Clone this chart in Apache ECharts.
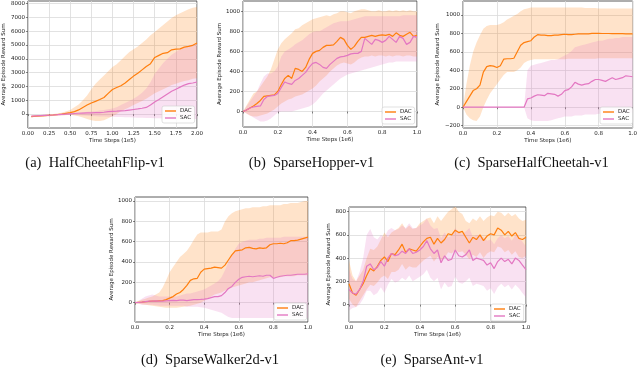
<!DOCTYPE html>
<html><head><meta charset="utf-8">
<script src="https://cdn.jsdelivr.net/npm/echarts@6/dist/echarts.min.js"></script>
<style>html,body{margin:0;padding:0;background:#fff}#c{width:640px;height:389px}</style>
</head><body><div id="c"></div>
<script>
// ---------- Panel (a) HalfCheetahFlip-v1 (x in 1e5) ----------
const aX = [0.04,0.1,0.2,0.3,0.4,0.5,0.55,0.6,0.65,0.7,0.75,0.8,0.85,0.9,0.95,1.0,1.05,1.1,1.15,1.2,1.25,1.3,1.35,1.4,1.45,1.5,1.55,1.6,1.65,1.7,1.75,1.8,1.85,1.9,1.95,2.0];
const aDacMean = [-180,-150,-110,-70,0,100,180,300,480,650,800,920,1050,1200,1500,1780,1920,2050,2250,2500,2750,2950,3200,3450,3650,4100,4250,4400,4450,4650,4700,4720,4850,4900,4980,5150];
const aDacHi = [-120,-100,-50,0,100,300,500,700,1000,1350,1800,2200,2500,2800,3100,3400,3600,3900,4200,4500,4700,4900,5150,5400,5700,5950,6200,6450,6700,6950,7150,7300,7450,7600,7700,7750];
const aDacLo = [-240,-200,-170,-140,-100,-50,-100,-150,-250,-350,-450,-500,-500,-450,-300,-150,0,200,350,500,650,800,950,1100,1300,1500,1650,1800,1950,2100,2200,2300,2400,2450,2550,2600];
const aSacMean = [-150,-130,-100,-70,-20,20,40,60,70,80,90,100,110,130,170,200,210,230,250,290,330,370,420,480,650,880,1050,1250,1450,1650,1800,1950,2100,2200,2250,2320];
const aSacHi = [-100,-80,-50,-20,30,80,100,120,140,160,180,200,250,300,350,400,500,650,800,950,1100,1300,1550,1850,2300,2900,3300,3700,4000,4300,4500,4700,4850,4950,5050,5100];
const aSacLo = [-200,-180,-150,-120,-80,-50,-60,-80,-100,-120,-140,-150,-170,-180,-190,-200,-210,-220,-230,-240,-250,-260,-270,-280,-290,-300,-310,-320,-330,-340,-350,-350,-350,-350,-350,-350];

// common x grid for 1e6 panels
const xs6 = [0,0.02,0.04,0.06,0.08,0.1,0.12,0.14,0.16,0.18,0.2,0.22,0.24,0.26,0.28,0.3,0.32,0.34,0.36,0.38,0.4,0.42,0.44,0.46,0.48,0.5,0.52,0.54,0.56,0.58,0.6,0.62,0.64,0.66,0.68,0.7,0.72,0.74,0.76,0.78,0.8,0.82,0.84,0.86,0.88,0.9,0.92,0.94,0.96,0.98,1.0];

// ---------- Panel (b) SparseHopper-v1 ----------
const bDacMean = [0,15,35,55,80,110,150,155,160,165,200,270,330,360,330,430,420,400,440,520,580,600,610,640,660,660,665,700,740,720,660,620,650,700,740,740,750,760,750,760,765,760,770,750,785,760,750,770,790,750,760];
const bDacHi = [0,60,120,180,200,250,300,350,420,520,620,680,720,750,780,820,830,860,880,900,920,930,940,950,960,950,970,980,1000,1000,990,980,1000,1010,1020,1020,1010,1000,1000,1010,1000,1000,1010,1000,1010,1000,1010,1000,1010,1000,1000];
const bDacLo = [0,-20,-40,-50,-50,-40,-30,-20,0,20,50,80,100,120,130,150,160,170,190,210,230,260,300,330,360,400,430,460,480,490,480,470,490,520,540,550,550,560,550,560,560,550,560,550,560,560,550,560,560,550,550];
const bSacMean = [0,15,35,45,50,55,120,150,155,160,180,240,295,280,270,310,330,360,390,440,480,490,470,440,430,470,500,530,545,550,560,575,580,580,600,730,700,670,720,710,690,710,750,720,690,750,730,670,690,750,740];
const bSacHi = [0,50,100,150,200,280,350,380,380,400,450,550,600,620,640,670,690,710,740,770,790,800,800,820,840,860,880,890,900,900,900,910,920,930,940,950,950,950,950,950,950,950,950,950,950,950,960,960,960,960,960];
const bSacLo = [0,-20,-40,-60,-80,-100,-100,-90,-70,-40,-10,0,0,0,0,10,20,30,40,50,70,100,140,180,210,240,270,300,330,350,370,380,390,400,410,420,430,440,450,460,470,480,490,490,500,500,500,500,500,500,500];

// ---------- Panel (c) SparseHalfCheetah-v1 ----------
const cDacMean = [0,60,120,180,200,240,380,440,450,445,430,450,520,525,525,530,600,670,700,710,720,760,785,780,780,775,775,780,780,785,790,785,785,790,795,795,795,795,800,800,800,798,798,798,796,796,796,796,795,795,795];
const cDacHi = [0,250,450,600,700,780,850,880,890,890,890,900,920,950,970,990,1010,1040,1060,1070,1080,1080,1080,1080,1080,1080,1080,1080,1080,1080,1080,1080,1080,1080,1080,1080,1075,1075,1075,1075,1070,1070,1070,1070,1070,1070,1070,1070,1070,1070,1070];
const cDacLo = [0,-80,-120,-140,-150,-100,0,80,150,200,250,300,350,380,380,380,400,430,480,500,510,520,520,520,520,520,520,520,520,520,520,525,525,525,525,525,525,525,525,525,530,530,530,530,530,530,530,530,530,530,530];
const cSacMean = [0,0,0,0,0,0,0,0,0,0,0,0,0,0,0,0,0,0,0,90,100,120,135,130,125,150,145,140,120,140,180,190,220,270,250,240,250,255,280,300,300,290,280,300,320,300,310,320,340,335,330];
const cSacHi = [0,0,0,0,0,0,0,0,0,0,0,0,0,0,0,0,0,0,0,400,450,460,470,480,490,500,510,510,520,540,560,580,610,650,660,670,680,690,700,710,720,720,730,740,740,750,750,760,760,760,760];
const cSacLo = [0,0,0,0,0,0,0,0,0,0,0,0,0,0,0,0,0,0,0,-120,-140,-150,-150,-150,-150,-150,-140,-130,-120,-110,-100,-100,-100,-90,-90,-90,-80,-80,-80,-80,-70,-70,-70,-70,-70,-65,-65,-65,-60,-60,-60];

// ---------- Panel (d) SparseWalker2d-v1 ----------
const dDacMean = [0,3,5,10,12,15,15,18,20,30,45,60,85,100,130,170,220,235,240,300,330,335,340,350,345,340,370,420,470,510,515,520,540,545,535,530,540,535,540,570,580,580,585,580,590,610,610,615,625,635,645];
const dDacHi = [0,15,30,40,50,60,80,100,150,220,300,350,400,450,480,510,560,620,670,690,690,690,700,700,700,720,800,850,880,900,910,920,930,930,940,940,940,950,950,960,960,960,960,970,970,980,980,980,990,1000,1000];
const dDacLo = [0,-10,-15,-20,-25,-30,-35,-40,-45,-50,-50,-50,-50,-45,-40,-35,-30,-20,-10,0,20,40,60,80,90,100,120,130,150,160,170,180,190,200,200,210,220,230,240,250,250,250,250,260,260,260,260,270,270,270,270];
const dSacMean = [0,2,5,10,15,15,18,15,15,18,20,22,20,25,25,20,25,30,30,32,35,40,50,60,60,70,100,140,160,200,230,250,255,260,255,260,265,260,270,270,240,250,260,265,270,270,275,280,280,280,285];
const dSacHi = [0,20,40,60,70,80,70,60,60,60,60,60,60,70,80,90,90,100,110,120,130,150,170,190,210,250,320,400,470,530,580,600,610,620,620,620,630,630,640,640,640,640,640,650,650,650,650,650,650,650,650];
const dSacLo = [0,-10,-20,-20,-20,-20,-25,-30,-30,-30,-30,-30,-30,-30,-30,-40,-40,-40,-40,-45,-50,-60,-70,-80,-90,-100,-120,-140,-150,-150,-150,-150,-150,-150,-150,-150,-150,-150,-150,-150,-150,-150,-150,-150,-150,-150,-150,-150,-150,-150,-150];

// ---------- Panel (e) SparseAnt-v1 ----------
const eDacMean = [180,100,80,130,180,250,310,290,330,380,410,370,440,430,470,520,450,480,470,460,500,540,570,580,520,570,530,560,610,600,640,620,630,580,530,580,560,600,550,590,610,600,660,640,600,630,590,620,570,560,580];
const eDacHi = [380,250,200,250,300,400,480,470,500,560,620,580,620,640,660,700,650,680,650,660,700,720,740,750,700,760,720,760,800,820,850,800,780,720,700,740,720,760,720,750,770,760,800,790,760,790,760,780,740,720,730];
const eDacLo = [50,0,-20,30,80,130,170,160,190,230,250,220,280,280,300,350,300,330,320,320,350,380,400,420,370,410,380,400,450,440,470,450,460,430,390,430,410,450,400,440,460,450,500,490,450,470,430,460,410,400,420];
const eSacMean = [130,100,90,130,200,330,350,300,320,370,330,400,440,420,430,460,440,480,440,450,470,500,550,480,440,470,360,420,380,390,470,420,410,430,470,380,400,390,380,340,360,310,370,400,370,390,350,400,380,340,300];
const eSacHi = [300,220,200,280,400,600,650,580,560,600,580,640,660,640,650,680,660,700,660,660,680,700,740,680,650,660,570,620,580,590,660,620,610,630,660,580,600,590,580,550,560,520,570,600,570,590,550,600,580,540,500];
const eSacLo = [-50,-30,-20,0,50,120,120,80,100,150,100,170,220,190,200,230,210,250,200,220,240,260,300,230,200,230,130,190,150,160,240,190,180,200,230,160,180,170,160,120,140,90,150,180,150,170,130,170,140,100,60];

// ---------- tick labels ----------
const aYTicks = [0,1000,2000,3000,4000,5000,6000,7000,8000];
const bYTicks = [0,200,400,600,800,1000];
const cYTicks = [-200,0,200,400,600,800,1000];
const dYTicks = [0,200,400,600,800,1000];
const eYTicks = [0,200,400,600,800];
const captions = ['(a)  HalfCheetahFlip-v1','(b)  SparseHopper-v1','(c)  SparseHalfCheetah-v1','(d)  SparseWalker2d-v1','(e)  SparseAnt-v1'];
const seriesNames = ['DAC','SAC'];

const panels = [
  {x:aX, dm:aDacMean, dh:aDacHi, dl:aDacLo, sm:aSacMean, sh:aSacHi, sl:aSacLo, yt:aYTicks, ymin:-1010, ymax:8190, xmax:2, xint:0.25, xdig:2, xname:'Time Steps (1e5)',
   grid:{left:24,top:1,width:173,height:127}, ygap:17, xgap:8, leg:{left:162,top:106}, cap:{x:95,y:163.5}},
  {x:xs6, dm:bDacMean, dh:bDacHi, dl:bDacLo, sm:bSacMean, sh:bSacHi, sl:bSacLo, yt:bYTicks, ymin:-155, ymax:1103, xmax:1, xint:0.2, xdig:1, xname:'Time Steps (1e6)',
   grid:{left:243,top:1,width:174,height:126}, ygap:18, xgap:9, leg:{left:382,top:107}, cap:{x:311.5,y:163.5}},
  {x:xs6, dm:cDacMean, dh:cDacHi, dl:cDacLo, sm:cSacMean, sh:cSacHi, sl:cSacLo, yt:cYTicks, ymin:-225, ymax:1150, xmax:1, xint:0.2, xdig:1, xname:'Time Steps (1e6)',
   grid:{left:463,top:1,width:172,height:127}, ygap:20, xgap:8, leg:{left:600,top:107}, cap:{x:531.5,y:163.5}},
  {x:xs6, dm:dDacMean, dh:dDacHi, dl:dDacLo, sm:dSacMean, sh:dSacHi, sl:dSacLo, yt:dYTicks, ymin:-190, ymax:1040, xmax:1, xint:0.2, xdig:1, xname:'Time Steps (1e6)',
   grid:{left:135,top:197,width:173,height:125}, ygap:18, xgap:8, leg:{left:274,top:303}, cap:{x:210,y:360}},
  {x:xs6, dm:eDacMean, dh:eDacHi, dl:eDacLo, sm:eSacMean, sh:eSacHi, sl:eSacLo, yt:eYTicks, ymin:-150, ymax:840, xmax:1, xint:0.2, xdig:1, xname:'Time Steps (1e6)',
   grid:{left:349,top:207,width:177,height:115}, ygap:15, xgap:8, leg:{left:491,top:304}, cap:{x:432,y:360}}
];

const DAC_COLOR = '#ff7f0e', SAC_COLOR = '#e377c2';
const DAC_BAND = 'rgba(255,127,14,0.22)', SAC_BAND = 'rgba(227,119,194,0.22)';
const tickFont = {fontFamily:'DejaVu Sans', fontSize:5.5, color:'#222'};

function bandRender(xs, lo, hi, color){
  return function(params, api){
    if (params.dataIndex !== 0) return null;
    const pts = [];
    for (let i = 0; i < xs.length; i++) pts.push(api.coord([xs[i], hi[i]]));
    for (let i = xs.length - 1; i >= 0; i--) pts.push(api.coord([xs[i], lo[i]]));
    return {type:'polygon', shape:{points:pts}, style:{fill:color}, silent:true};
  };
}
const fmtY = v => v < 0 ? '\u2212' + (-v) : String(v);

const option = {
  animation:false, backgroundColor:'#fff',
  grid:[], xAxis:[], yAxis:[], series:[], legend:[], graphic:[]
};
panels.forEach((p, i) => {
  option.grid.push(Object.assign({show:true, borderColor:'#333', borderWidth:0.8, backgroundColor:'transparent'}, p.grid));
  option.xAxis.push({type:'value', gridIndex:i, min:0, max:p.xmax, interval:p.xint,
    axisLine:{show:false}, axisTick:{show:true, length:2, lineStyle:{color:'#333', width:0.6}},
    axisLabel:Object.assign({margin:3, formatter:v => v.toFixed(p.xdig)}, tickFont),
    splitLine:{show:true, lineStyle:{color:'#dadada', width:0.8}},
    name:p.xname, nameLocation:'middle', nameGap:p.xgap, nameTextStyle:tickFont});
  option.yAxis.push({type:'value', gridIndex:i, min:p.ymin, max:p.ymax,
    axisLine:{show:false}, axisTick:{show:true, length:2, customValues:p.yt, lineStyle:{color:'#333', width:0.6}},
    axisLabel:Object.assign({margin:3, customValues:p.yt, formatter:fmtY}, tickFont),
    splitLine:{show:true, lineStyle:{color:'#dadada', width:0.8}},
    name:'Average Episode Reward Sum', nameLocation:'middle', nameGap:p.ygap, nameTextStyle:tickFont});
  const dacBandData = p.x.map((x, k) => [x, p.dl[k], p.dh[k]]);
  const sacBandData = p.x.map((x, k) => [x, p.sl[k], p.sh[k]]);
  option.series.push({type:'custom', name:'DAC band', xAxisIndex:i, yAxisIndex:i, clip:true, silent:true,
    data:dacBandData, encode:{x:0, y:[1,2]}, renderItem:bandRender(p.x, p.dl, p.dh, DAC_BAND), z:1});
  option.series.push({type:'custom', name:'SAC band', xAxisIndex:i, yAxisIndex:i, clip:true, silent:true,
    data:sacBandData, encode:{x:0, y:[1,2]}, renderItem:bandRender(p.x, p.sl, p.sh, SAC_BAND), z:1});
  option.series.push({type:'line', name:'DAC', xAxisIndex:i, yAxisIndex:i, showSymbol:false, symbol:'none',
    data:p.x.map((x, k) => [x, p.dm[k]]), lineStyle:{color:DAC_COLOR, width:1.2}, itemStyle:{color:DAC_COLOR}, z:3});
  option.series.push({type:'line', name:'SAC', xAxisIndex:i, yAxisIndex:i, showSymbol:false, symbol:'none',
    data:p.x.map((x, k) => [x, p.sm[k]]), lineStyle:{color:SAC_COLOR, width:1.2}, itemStyle:{color:SAC_COLOR}, z:3});
  option.legend.push({data:seriesNames, orient:'vertical', left:p.leg.left, top:p.leg.top,
    padding:[2,3,2,3], itemGap:1, itemWidth:11, itemHeight:1.4, icon:'rect',
    backgroundColor:'rgba(255,255,255,0.85)', borderColor:'#ccc', borderWidth:0.6, borderRadius:2,
    textStyle:{fontFamily:'DejaVu Sans', fontSize:5.5, color:'#222', padding:[0,0,0,-1]}, selectedMode:false});
  option.graphic.push({type:'text', x:p.cap.x, y:p.cap.y, silent:true,
    style:{text:captions[i], align:'center', verticalAlign:'middle',
      font:'normal 14.5px "Liberation Serif", "Times New Roman", serif', fill:'#111'}});
});

const chart = echarts.init(document.getElementById('c'), null, {renderer:'canvas'});
chart.setOption(option);
</script>
</body></html>
